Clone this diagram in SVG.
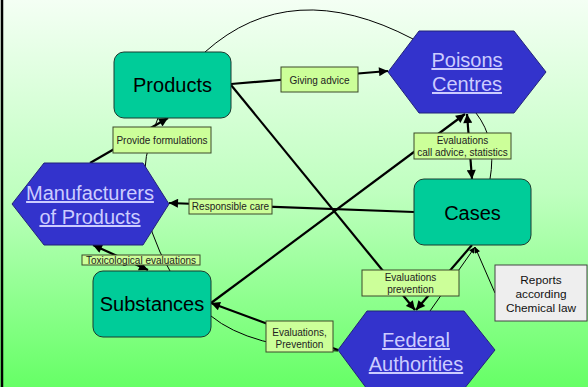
<svg xmlns="http://www.w3.org/2000/svg" width="588" height="387" viewBox="0 0 588 387">
  <defs>
    <linearGradient id="bg" x1="0" y1="0" x2="0" y2="1">
      <stop offset="0" stop-color="#f4fff4"/>
      <stop offset="0.5" stop-color="#bfffbf"/>
      <stop offset="1" stop-color="#66ff66"/>
    </linearGradient>
    <marker id="arr" viewBox="0 0 10 10" refX="10" refY="5" markerWidth="11" markerHeight="9" markerUnits="userSpaceOnUse" orient="auto-start-reverse">
      <path d="M0,0 L10,5 L0,10 Z" fill="#000"/>
    </marker>
    <marker id="arrs" viewBox="0 0 10 10" refX="10" refY="5" markerWidth="7" markerHeight="6" markerUnits="userSpaceOnUse" orient="auto-start-reverse">
      <path d="M0,0 L10,5 L0,10 Z" fill="#000"/>
    </marker>
  </defs>
  <style>
    .thick { stroke: #000; stroke-width: 2.2; fill: none; }
    .thin { stroke: #000; stroke-width: 1; fill: none; }
    .box { fill: #00cc99; stroke: #1b3b30; stroke-width: 1; }
    .hex { fill: #3333cc; stroke: #23237a; stroke-width: 1; }
    .lbl { fill: #ccff99; stroke: #3d4a2a; stroke-width: 1; }
    .note { fill: #eeeeee; stroke: #444; stroke-width: 1; }
    .ntxt { font-family: "Liberation Sans", Arial, sans-serif; font-size: 20px; fill: #000; text-anchor: middle; }
    .htxt { font-family: "Liberation Sans", Arial, sans-serif; font-size: 20px; fill: #ccccff; text-anchor: middle; text-decoration: underline; }
    .ltxt { font-family: "Liberation Sans", Arial, sans-serif; font-size: 10px; fill: #222; text-anchor: middle; }
    .rtxt { font-family: "Liberation Sans", Arial, sans-serif; font-size: 11.8px; fill: #111; text-anchor: middle; }
  </style>

  <!-- backdrop -->
  <rect x="0" y="0" width="588" height="387" fill="url(#bg)"/>
  <line x1="2" y1="0" x2="2" y2="387" stroke="#000" stroke-width="2.5"/>

  <!-- connectors -->
  <g id="connectors">
    <path class="thin" d="M205,52 Q291,-25 413,39"/>
    <path class="thin" d="M170,271 Q125,195 158,118"/>
    <path class="thin" d="M211,316 Q250,348 338,351"/>
    <path class="thin" d="M476,113 Q497,140 490,179"/>
    <path class="thin" d="M430,311 L475,247" marker-end="url(#arrs)"/>
    <path class="thin" d="M495,293 L475,247" marker-end="url(#arrs)"/>
    <path class="thick" d="M231,84 L388,71" marker-end="url(#arr)"/>
    <path class="thick" d="M90,163 L168,118" marker-end="url(#arr)"/>
    <path class="thick" d="M414,212 L169,203" marker-end="url(#arr)"/>
    <path class="thick" d="M211,303 L465,114" marker-end="url(#arr)"/>
    <path class="thick" d="M338,350 L211,303" marker-end="url(#arr)"/>
    <path class="thick" d="M467,114 L472,179" marker-start="url(#arr)" marker-end="url(#arr)"/>
    <path class="thick" d="M231,85 L415,310" marker-end="url(#arr)"/>
    <path class="thick" d="M472,245 L416,310" marker-end="url(#arr)"/>
    <path class="thick" d="M93,245 L148,270" marker-start="url(#arr)" marker-end="url(#arr)"/>
  </g>

  <!-- edge labels -->
  <g id="labels">
    <rect class="lbl" x="281" y="67" width="77" height="25"/>
    <text class="ltxt" x="319.5" y="83.5">Giving advice</text>
    <rect class="lbl" x="113" y="127" width="98" height="26"/>
    <text class="ltxt" x="162" y="144">Provide formulations</text>
    <rect class="lbl" x="189" y="199" width="83" height="15"/>
    <text class="ltxt" x="230.5" y="210">Responsible care</text>
    <rect class="lbl" x="82" y="255" width="118" height="10"/>
    <text class="ltxt" x="141" y="264">Toxicological evaluations</text>
    <rect class="lbl" x="414" y="133" width="97" height="26"/>
    <text class="ltxt" x="462.5" y="144">Evaluations</text>
    <text class="ltxt" x="462.5" y="156">call advice, statistics</text>
    <rect class="lbl" x="362" y="270" width="97" height="26"/>
    <text class="ltxt" x="410.5" y="281">Evaluations</text>
    <text class="ltxt" x="410.5" y="293">prevention</text>
    <rect class="lbl" x="266" y="321" width="67" height="31"/>
    <text class="ltxt" x="299.5" y="336">Evaluations,</text>
    <text class="ltxt" x="299.5" y="348">Prevention</text>
  </g>

  <!-- nodes -->
  <g id="products">
    <rect class="box" x="114" y="52" width="117" height="66" rx="10"/>
    <text class="ntxt" x="172.5" y="92">Products</text>
  </g>
  <g id="poisons-centres">
    <polygon class="hex" points="388,72 419,31 514,31 546,72 514,113 419,113"/>
    <text class="htxt" x="467" y="67">Poisons</text>
    <text class="htxt" x="467" y="91">Centres</text>
  </g>
  <g id="manufacturers">
    <polygon class="hex" points="12,204 44,163 143,163 169,204 143,245 44,245"/>
    <text class="htxt" x="90" y="200">Manufacturers</text>
    <text class="htxt" x="90" y="224">of Products</text>
  </g>
  <g id="cases">
    <rect class="box" x="414" y="179" width="117" height="66" rx="10"/>
    <text class="ntxt" x="472.5" y="220">Cases</text>
  </g>
  <g id="substances">
    <rect class="box" x="93" y="271" width="118" height="66" rx="10"/>
    <text class="ntxt" x="152" y="311">Substances</text>
  </g>
  <g id="federal-authorities">
    <polygon class="hex" points="338,350 367,311 464,311 495,350 464,389 367,389"/>
    <text class="htxt" x="416" y="347">Federal</text>
    <text class="htxt" x="416" y="371">Authorities</text>
  </g>
  <g id="reports">
    <rect class="note" x="495" y="265" width="92" height="56"/>
    <text class="rtxt" x="541" y="284">Reports</text>
    <text class="rtxt" x="541" y="298">according</text>
    <text class="rtxt" x="541" y="312">Chemical law</text>
  </g>
</svg>
